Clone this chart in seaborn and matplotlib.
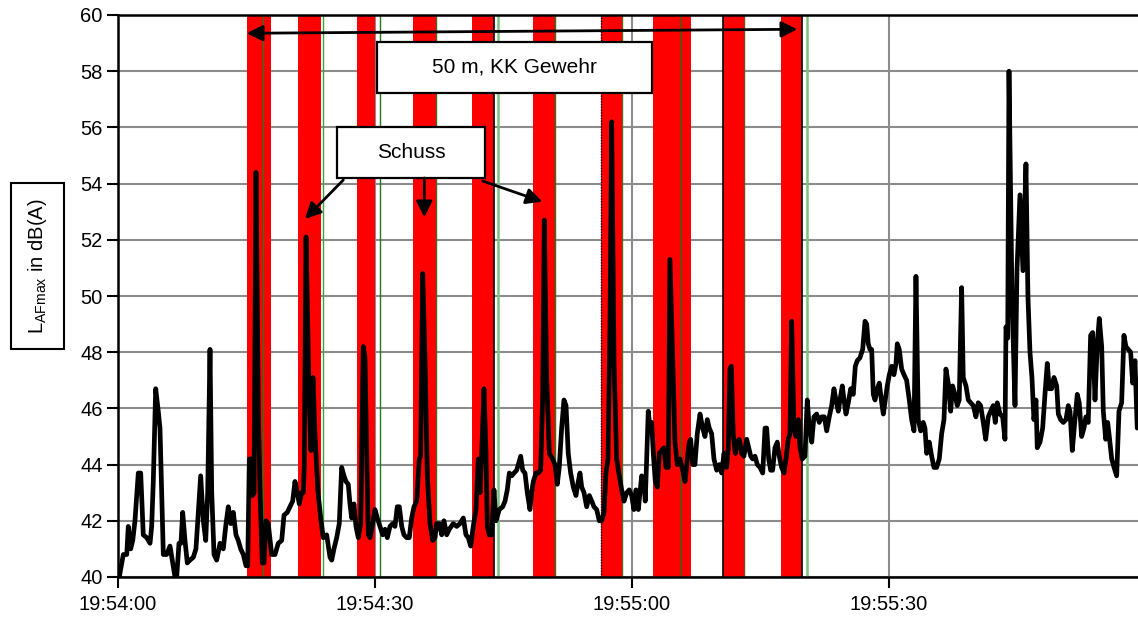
import matplotlib
matplotlib.use("Agg")
import matplotlib.pyplot as plt
from matplotlib.patches import Rectangle
import pandas as pd
import seaborn as sns

sns.set_theme(style="white")
plt.rcParams['font.family'] = ['Liberation Sans', 'DejaVu Sans']
plt.rcParams['mathtext.default'] = 'regular'
plt.rcParams.update({'text.color': 'black', 'xtick.color': 'black',
                     'ytick.color': 'black', 'axes.labelcolor': 'black'})

# seconds after 19:54:00
t_s = [
    0.06, 0.15, 0.62, 1.02, 1.20, 1.48, 1.72, 1.98, 2.37, 2.65, 2.95, 3.35, 3.74, 3.93, 4.12, 4.40,
    4.70, 4.90, 5.10, 5.29, 5.68, 6.07, 6.39, 6.65, 6.85, 7.12, 7.35, 7.55, 7.82, 8.09, 8.40, 8.79,
    9.10, 9.37, 9.65, 9.96, 10.24, 10.47, 10.74, 10.94, 11.21, 11.52, 11.91, 12.29, 12.61, 12.88,
    13.16, 13.46, 13.77, 14.04, 14.32, 14.63, 14.94, 15.14, 15.33, 15.61, 15.72, 15.88, 16.11, 16.38,
    16.58, 16.84, 17.04, 17.28, 17.54, 17.94, 18.33, 18.71, 19.11, 19.38, 19.76, 20.08, 20.39, 20.66,
    20.93, 21.16, 21.44, 21.63, 21.75, 21.95, 22.30, 22.53, 22.76, 23.00, 23.35, 23.70, 23.96, 24.36,
    24.75, 24.95, 25.21, 25.53, 25.83, 26.11, 26.38, 26.61, 26.88, 27.08, 27.28, 27.55, 27.78, 28.05,
    28.33, 28.63, 28.83, 29.03, 29.22, 29.42, 29.73, 30.00, 30.27, 30.58, 30.90, 31.17, 31.44, 31.75,
    32.07, 32.33, 32.60, 32.84, 33.12, 33.38, 33.70, 34.00, 34.28, 34.55, 34.87, 35.17, 35.33, 35.57,
    35.84, 36.11, 36.42, 36.74, 37.00, 37.20, 37.51, 37.79, 38.05, 38.37, 38.67, 39.14, 39.54, 39.92,
    40.31, 40.62, 40.89, 41.17, 41.47, 41.79, 42.06, 42.26, 42.46, 42.72, 42.96, 43.11, 43.34, 43.62,
    43.89, 44.12, 44.51, 44.91, 45.18, 45.44, 45.68, 45.96, 46.23, 46.54, 46.73, 47.01, 47.24, 47.51,
    47.78, 48.09, 48.29, 48.48, 48.79, 49.06, 49.34, 49.58, 49.76, 50.04, 50.35, 50.74, 51.01, 51.28,
    51.51, 51.79, 52.06, 52.30, 52.56, 52.84, 53.15, 53.46, 53.73, 53.93, 54.13, 54.40, 54.71, 55.02,
    55.30, 55.56, 55.88, 56.18, 56.46, 56.73, 56.96, 57.20, 57.43, 57.63, 57.90, 58.21, 58.52, 58.80,
    59.07, 59.38, 59.68, 59.96, 60.23, 60.47, 60.74, 60.93, 61.13, 61.40, 61.55, 61.72, 61.90, 62.10,
    62.30, 62.49, 62.72, 62.95, 63.19, 63.47, 63.73, 63.97, 64.24, 64.43, 64.75, 65.02, 65.29, 65.60,
    65.92, 66.19, 66.46, 66.69, 66.85, 67.09, 67.35, 67.62, 67.94, 68.25, 68.52, 68.79, 69.02, 69.30,
    69.57, 69.89, 70.19, 70.47, 70.74, 71.05, 71.24, 71.44, 71.59, 71.82, 72.06, 72.29, 72.52, 72.80,
    73.07, 73.39, 73.62, 73.86, 74.09, 74.36, 74.63, 74.94, 75.26, 75.53, 75.72, 75.96, 76.19, 76.42,
    76.69, 76.96, 77.19, 77.47, 77.74, 77.98, 78.24, 78.44, 78.64, 78.91, 79.14, 79.41, 79.61, 79.88,
    80.19, 80.46, 80.70, 80.98, 81.24, 81.56, 81.86, 82.14, 82.45, 82.73, 83.03, 83.31, 83.58, 83.81,
    84.08, 84.28, 84.55, 84.75, 84.98, 85.25, 85.53, 85.83, 86.07, 86.30, 86.61, 86.93, 87.20, 87.40,
    87.58, 87.78, 87.98, 88.17, 88.37, 88.64, 88.87, 89.15, 89.34, 89.57, 89.80, 90.04, 90.31, 90.58,
    90.82, 90.97, 91.20, 91.48, 91.75, 92.06, 92.37, 92.65, 92.92, 93.15, 93.42, 93.70, 94.00, 94.20,
    94.40, 94.70, 94.98, 95.25, 95.57, 95.87, 96.15, 96.42, 96.65, 96.92, 97.20, 97.43, 97.70, 97.97,
    98.20, 98.48, 98.67, 98.99, 99.26, 99.54, 99.84, 100.15, 100.42, 100.70, 101.01, 101.29, 101.59,
    101.87, 102.17, 102.41, 102.64, 102.96, 103.27, 103.54, 103.66, 103.86, 104.01, 104.36, 104.71,
    104.94, 105.29, 105.64, 105.99, 106.22, 106.46, 106.69, 106.92, 107.16, 107.31, 107.63, 107.94,
    108.21, 108.48, 108.71, 108.99, 109.26, 109.58, 109.77, 110.04, 110.35, 110.66, 110.93, 111.13,
    111.40, 111.71, 111.98, 112.21, 112.49, 112.76, 112.99, 113.26, 113.54, 113.78, 114.05, 114.32,
    114.55, 114.83, 115.02, 115.30, 115.53, 115.72, 116.00, 116.27, 116.58, 116.85, 117.16, 117.43,
    117.66, 117.93, 118.21, 118.45, 118.72, 118.98,
]
level_db = [
    40.3, 40.0, 40.8, 40.8, 41.8, 41.0, 41.3, 42.0, 43.7, 43.7, 41.5, 41.4, 41.2, 41.8, 43.4, 46.7,
    45.9, 45.3, 43.0, 40.8, 40.8, 41.1, 40.5, 40.0, 40.0, 41.2, 41.2, 42.3, 41.3, 40.5, 40.6, 40.7,
    41.0, 42.3, 43.6, 42.0, 41.3, 43.0, 48.1, 43.0, 40.8, 40.6, 41.2, 41.0, 41.9, 42.5,
    41.9, 42.3, 41.5, 41.3, 41.0, 40.8, 40.4, 40.4, 44.2, 44.2, 42.9, 43.0, 54.4, 46.0,
    43.0, 40.5, 40.5, 42.0, 41.9, 40.8, 40.8, 41.2, 41.3, 42.2, 42.3, 42.5, 42.7, 43.4,
    43.0, 42.6, 43.0, 43.0, 44.0, 52.1, 46.5, 44.5, 47.1, 45.0, 43.0, 42.0, 41.4, 41.5,
    40.7, 40.6, 41.0, 41.4, 41.9, 43.9, 43.6, 43.4, 43.3, 42.6, 42.1, 42.6, 41.8, 41.4,
    41.9, 48.2, 47.8, 44.4, 41.5, 41.4, 41.9, 42.4, 42.1, 41.8, 41.5, 41.7, 41.4, 41.8,
    41.9, 41.8, 42.5, 42.5, 41.8, 41.5, 41.4, 41.4, 42.1, 42.5, 42.7, 44.2, 44.3, 50.8,
    47.7, 43.6, 41.9, 41.3, 41.4, 41.9, 41.9, 41.5, 42.0, 41.5, 41.7, 41.9, 41.8, 41.9,
    42.1, 41.5, 41.4, 41.1, 41.8, 42.4, 44.2, 43.0, 44.4, 46.7, 44.4, 41.8, 41.5, 41.5,
    43.1, 42.0, 42.4, 42.5, 42.7, 43.1, 43.7, 43.6, 43.7, 43.8, 44.0, 44.3, 43.8, 43.7,
    43.0, 42.4, 43.0, 43.4, 43.7, 43.7, 43.8, 46.5, 52.7, 47.1, 44.4, 44.2, 44.0, 43.3,
    43.9, 45.3, 46.3, 46.1, 44.4, 43.7, 43.2, 42.9, 43.4, 43.7, 43.2, 43.0, 42.5, 42.9,
    42.7, 42.5, 42.4, 42.0, 42.0, 42.3, 43.7, 44.2, 48.9, 56.2, 47.7, 44.2, 43.6, 43.1,
    42.7, 43.0, 43.1, 42.9, 42.4, 43.1, 42.4, 43.0, 43.6, 43.4, 42.7, 44.2, 45.9, 45.3,
    45.5, 44.4, 43.4, 43.2, 44.4, 44.5, 44.6, 43.9, 43.9, 51.3, 47.7, 44.8, 44.0, 44.2,
    43.8, 43.4, 44.2, 44.8, 44.9, 44.0, 44.0, 45.1, 45.8, 45.3, 45.0, 45.6, 45.3, 45.1,
    44.2, 43.8, 44.0, 43.7, 44.4, 43.9, 44.6, 47.4, 47.5, 45.1, 44.4, 44.8, 44.9, 44.4,
    44.3, 44.9, 44.6, 44.3, 44.2, 44.3, 44.0, 43.9, 43.7, 45.3, 45.3, 44.2, 43.8, 43.8,
    44.6, 44.8, 44.3, 43.9, 43.7, 44.2, 44.9, 45.1, 49.1, 45.3, 45.0, 45.6, 44.6, 44.2,
    44.3, 46.3, 45.3, 44.8, 45.7, 45.8, 45.5, 45.7, 45.7, 45.2, 45.7, 46.1, 46.7, 46.3,
    45.9, 46.3, 46.8, 46.3, 45.8, 46.2, 46.7, 46.5, 47.5, 47.7, 47.8, 48.1, 49.1, 49.0,
    48.3, 48.1, 48.1, 46.5, 46.3, 46.7, 46.9, 46.2, 45.8, 46.3, 46.8, 47.2, 47.5, 47.2,
    47.6, 48.3, 48.1, 47.4, 47.2, 47.0, 46.3, 45.6, 45.2, 50.7, 45.6, 45.2, 45.5, 45.3,
    44.4, 44.8, 44.3, 43.9, 43.9, 44.2, 45.1, 45.6, 47.4, 46.9, 45.9, 46.8, 46.5, 46.1,
    46.3, 50.3, 47.1, 46.8, 46.3, 46.2, 46.1, 45.7, 46.2, 46.1, 45.5, 44.9, 45.7,
    45.9, 46.1, 45.5, 46.2, 45.8, 45.7, 44.9, 48.9, 48.5, 58.0, 50.0, 46.1,
    50.9, 53.6, 50.9, 54.7, 50.0, 48.0, 47.1, 45.6, 46.3, 44.6, 44.8, 45.3,
    46.5, 47.6, 46.7, 46.7, 47.1, 46.8, 45.8, 45.6, 45.5, 45.6, 46.1, 45.9,
    44.5, 45.6, 46.5, 46.2, 45.0, 45.3, 45.7, 45.5, 48.6, 48.7, 46.3, 48.3,
    49.2, 48.2, 45.9, 44.9, 45.5, 45.0, 44.2, 43.9, 43.6, 45.9, 46.2, 48.6,
    48.2, 48.1, 48.0, 46.9, 47.7, 45.3,
]

# red shooting windows (s)
shot_start = [15.06, 21.01, 27.90, 34.44, 41.32, 48.44, 56.38, 62.45, 70.67, 77.40]
shot_end = [17.86, 23.70, 30.00, 37.24, 43.89, 51.01, 58.83, 66.88, 73.12, 79.85]

# thin marker lines
mark_s = [16.93, 23.93, 30.58, 37.12, 44.36, 51.01, 58.83, 65.72, 73.12, 80.43]
mark_col = ['#1f7a1f', '#3aa53a', '#1f7a1f', '#3d6b1a', '#7fc27f',
            '#1f7a1f', '#56661a', '#1f6e1f', '#7a4a1a', '#7fc27f']
mark_lw = [1.0, 1.0, 1.0, 1.0, 1.8, 1.0, 1.0, 1.0, 1.0, 1.8]
black_s = [43.89, 70.67, 79.85]
dotted_s = [56.38]

tick_s = [0, 30, 60, 90]
tick_lbl = ['19:54:00', '19:54:30', '19:55:00', '19:55:30']
y_ticks = list(range(40, 61, 2))

df = pd.DataFrame({'t': t_s, 'L': level_db})

fig = plt.figure(figsize=(11.38, 6.18), dpi=100)
ax = fig.add_axes([118 / 1138, 41 / 618, 1020 / 1138, 562 / 618])

for a, b in zip(shot_start, shot_end):
    ax.axvspan(a, b, color='#ff0000', lw=0, zorder=1)
for x, c, w in zip(mark_s, mark_col, mark_lw):
    ax.axvline(x, color=c, lw=w, zorder=1.5)
for x in black_s:
    ax.axvline(x, color='black', lw=1.2, zorder=1.5)
for x in dotted_s:
    ax.axvline(x, color='black', lw=1.0, ls=(0, (1, 1)), zorder=1.5)

sns.lineplot(data=df, x='t', y='L', ax=ax, color='black', lw=3.4, estimator=None,
             sort=False, zorder=3, solid_joinstyle='round', solid_capstyle='round')

ax.set_xlim(0, 119.07)
ax.set_ylim(40, 60)
ax.set_xticks(tick_s)
ax.set_xticklabels(tick_lbl)
ax.set_yticks(y_ticks)
ax.set_xlabel('')
ax.set_ylabel('')
ax.grid(True, color='#8c8c8c', lw=1.5)
ax.set_axisbelow(True)
ax.tick_params(axis='both', labelsize=14.5, length=8, width=1.5, color='black',
               labelcolor='black', direction='out', bottom=True, left=True, pad=3)
ax.tick_params(axis='x', pad=5)
for s in ['left', 'bottom', 'top']:
    ax.spines[s].set_color('black')
    ax.spines[s].set_linewidth(1.8)
ax.spines['right'].set_visible(False)

# annotation boxes
ax.add_patch(Rectangle((0.254, 0.8617), 0.2695, 0.0903, transform=ax.transAxes,
                       fc='white', ec='black', lw=1.6, zorder=5))
ax.text(0.389, 0.907, '50 m, KK Gewehr', transform=ax.transAxes, ha='center',
        va='center', fontsize=15, color='black', zorder=6)
ax.add_patch(Rectangle((0.2147, 0.7105), 0.1451, 0.0902, transform=ax.transAxes,
                       fc='white', ec='black', lw=1.6, zorder=5))
ax.text(0.2873, 0.7562, 'Schuss', transform=ax.transAxes, ha='center',
        va='center', fontsize=15, color='black', zorder=6)

ax.annotate('', xy=(0.1262, 0.9675), xytext=(0.666, 0.9746), xycoords='axes fraction',
            arrowprops=dict(arrowstyle='<|-|>', color='black', lw=2, mutation_scale=24,
                            shrinkA=0, shrinkB=0), zorder=6)
for start, tip in [((0.2209, 0.7064), (0.1833, 0.637)),
                   ((0.3003, 0.710), (0.3003, 0.640)),
                   ((0.3575, 0.7046), (0.416, 0.6678))]:
    ax.annotate('', xy=tip, xytext=start, xycoords='axes fraction',
                arrowprops=dict(arrowstyle='-|>', color='black', lw=2, mutation_scale=24,
                                shrinkA=0, shrinkB=0), zorder=6)

fig.text(37.5 / 1138, 1 - 266 / 618, 'L$_{AFmax}$ in dB(A)', rotation=90, ha='center',
         va='center', fontsize=14.5, color='black',
         bbox=dict(boxstyle='square,pad=0.75', fc='white', ec='black', lw=1.5))

fig.savefig('out.png', dpi=100)
